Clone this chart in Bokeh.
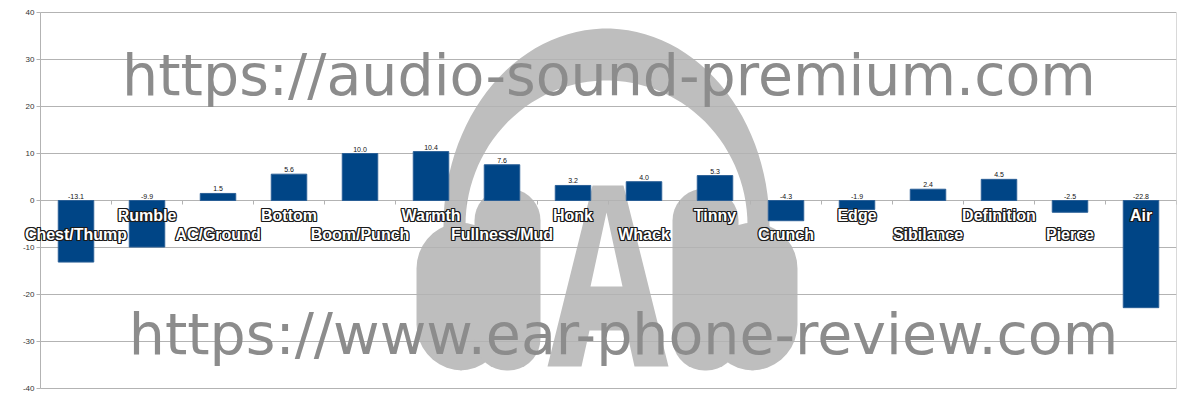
import numpy as np
from bokeh.plotting import figure
from bokeh.models import Range1d, ColumnDataSource, LabelSet
from bokeh.core.properties import value
from bokeh.embed import file_html
from bokeh.resources import INLINE

# ---- data ----
categories = ["Chest/Thump", "Rumble", "AC/Ground", "Bottom", "Boom/Punch", "Warmth",
              "Fullness/Mud", "Honk", "Whack", "Tinny", "Crunch", "Edge", "Sibilance",
              "Definition", "Pierce", "Air"]
values = [-13.1, -9.9, 1.5, 5.6, 10.0, 10.4, 7.6, 3.2, 4.0, 5.3, -4.3, -1.9, 2.4, 4.5, -2.5, -22.8]
y_ticks = [-40, -30, -20, -10, 0, 10, 20, 30, 40]
y_tick_labels = [str(v) for v in y_ticks]
watermark_top = "https://audio-sound-premium.com"
watermark_bottom = "https://www.ear-phone-review.com"

BAR = "#004586"
GRID = "#b3b3b3"
LOGO = "#bebebe"
WM = "#8c8c8c"

n = len(categories)
xc = [i + 0.5 for i in range(n)]
PXX = 71.0   # px per category
PXY = 4.7    # px per y unit

# frame is widened to the left so the first category label is not clipped;
# the value axis is drawn at x = 0 from the same tick list.
p = figure(width=1192, height=400, output_backend="svg", toolbar_location=None,
           x_range=Range1d(-20 / PXX, n), y_range=Range1d(-196 / PXY, 196 / PXY),
           x_axis_location=None, y_axis_location=None,
           min_border_left=20, min_border_right=16, min_border_top=4, min_border_bottom=4)
p.background_fill_color = "white"
p.border_fill_color = "white"
p.outline_line_color = None
p.grid.visible = False

# ---- watermark logo (decoration, drawn in plot-pixel space) ----
def X(px):
    return (np.asarray(px, dtype=float) - 40.0) / PXX

def Y(py):
    return (200.0 - np.asarray(py, dtype=float)) / PXY

def rrect(x0, y0, x1, y1, r, k=10):
    pts = []
    corners = [(x1 - r, y0 + r, -90, 0), (x1 - r, y1 - r, 0, 90),
               (x0 + r, y1 - r, 90, 180), (x0 + r, y0 + r, 180, 270)]
    for cx, cy, a0, a1 in corners:
        for a in np.linspace(np.radians(a0), np.radians(a1), k):
            pts.append((cx + r * np.cos(a), cy + r * np.sin(a)))
    pts = np.array(pts)
    return list(X(pts[:, 0])), list(Y(pts[:, 1]))

# headband
cxh, cyh = 606, 225
t = np.linspace(np.pi, 0, 60)
ox = cxh + 163 * np.cos(t); oy = cyh - 197 * np.sin(t)
ix = cxh + 141 * np.cos(t[::-1]); iy = cyh - 145 * np.sin(t[::-1])
bx = np.concatenate([[443], ox, [769, 747], ix, [465]])
by = np.concatenate([[245], oy, [245, 245], iy, [245]])
shapes = [(list(X(bx)), list(Y(by)))]
shapes.append(rrect(416, 222, 505, 370, 46))
shapes.append(rrect(474, 188, 540, 370, 32))
shapes.append(rrect(707, 222, 797, 370, 46))
shapes.append(rrect(672, 188, 738, 370, 32))
for sx, sy in shapes:
    p.patch(sx, sy, fill_color=LOGO, line_color=None, level="image")

# letter A with counter
a_out_x = [547, 592, 623, 668, 634, 626, 589, 581]
a_out_y = [366, 185, 185, 366, 366, 330, 330, 366]
a_hole_x = [606, 590, 622]
a_hole_y = [212, 286, 286]
p.multi_polygons(xs=[[[list(X(a_out_x)), list(X(a_hole_x))]]],
                 ys=[[[list(Y(a_out_y)), list(Y(a_hole_y))]]],
                 fill_color=LOGO, line_color=None, level="image")

# ---- value axis: grid, axis line, ticks, labels, right border ----
nt = len(y_ticks)
p.segment(x0=[0] * nt, y0=y_ticks, x1=[n] * nt, y1=y_ticks, line_color=GRID, line_width=1)
p.segment(x0=[-4 / PXX] * nt, y0=y_ticks, x1=[0] * nt, y1=y_ticks, line_color=GRID, line_width=1)
p.segment(x0=[0, n], y0=[y_ticks[0]] * 2, x1=[0, n], y1=[y_ticks[-1]] * 2,
          line_color=GRID, line_width=1)
p.text(x=[0] * nt, y=y_ticks, text=y_tick_labels, x_offset=-6,
       text_align="right", text_baseline="middle",
       text_font=value("Liberation Sans"), text_font_size="8px", text_color="#333333")

# ---- bars ----
src = ColumnDataSource(dict(x=xc, top=values,
                            lab=[f"{v:.1f}" for v in values],
                            ly=[max(v, 0) for v in values]))
p.vbar(x="x", top="top", bottom=0, width=0.5, source=src,
       fill_color=BAR, line_color="#2a5f96", line_width=1)

# category boundary ticks on the zero line
bnd = list(range(n + 1))
p.segment(x0=bnd, y0=[0] * len(bnd), x1=bnd, y1=[-4 / PXY] * len(bnd),
          line_color=GRID, line_width=1)

# value labels
p.text(x="x", y="ly", text="lab", source=src, y_offset=-2,
       text_align="center", text_baseline="bottom",
       text_font=value("Liberation Sans"), text_font_size="7px", text_color="#111111")

# watermark text
p.text(x=[X(608.5)], y=[Y(74)], text=[watermark_top], text_align="center",
       text_baseline="middle", text_font=value("DejaVu Sans"),
       text_font_size="57px", text_color=WM)
p.text(x=[X(623)], y=[Y(333)], text=[watermark_bottom], text_align="center",
       text_baseline="middle", text_font=value("DejaVu Sans"),
       text_font_size="57px", text_color=WM)

# staggered category labels (outlined: dark halo + white fill)
def offs(dy):
    return [(-34 if i % 2 == 0 else -15) + dy for i in range(n)]

halo = [(-1, 0), (1, 0), (0, -1), (0, 1), (-1, -1), (1, 1), (-1, 1), (1, -1)]
for dx, dy in halo:
    cs = ColumnDataSource(dict(x=xc, y=[0] * n, t=categories, off=offs(dy)))
    p.add_layout(LabelSet(x="x", y="y", text="t", source=cs, x_offset=dx, y_offset="off",
                          text_align="center", text_baseline="middle",
                          text_font=value("Liberation Sans"), text_font_style="bold",
                          text_font_size="16px", text_color="#1a1a1a"))
cat_src = ColumnDataSource(dict(x=xc, y=[0] * n, t=categories, off=offs(0)))
p.add_layout(LabelSet(x="x", y="y", text="t", source=cat_src, y_offset="off",
                      text_align="center", text_baseline="middle",
                      text_font=value("Liberation Sans"), text_font_style="bold",
                      text_font_size="16px", text_color="white"))

open("out.html", "w").write(file_html(p, INLINE))
